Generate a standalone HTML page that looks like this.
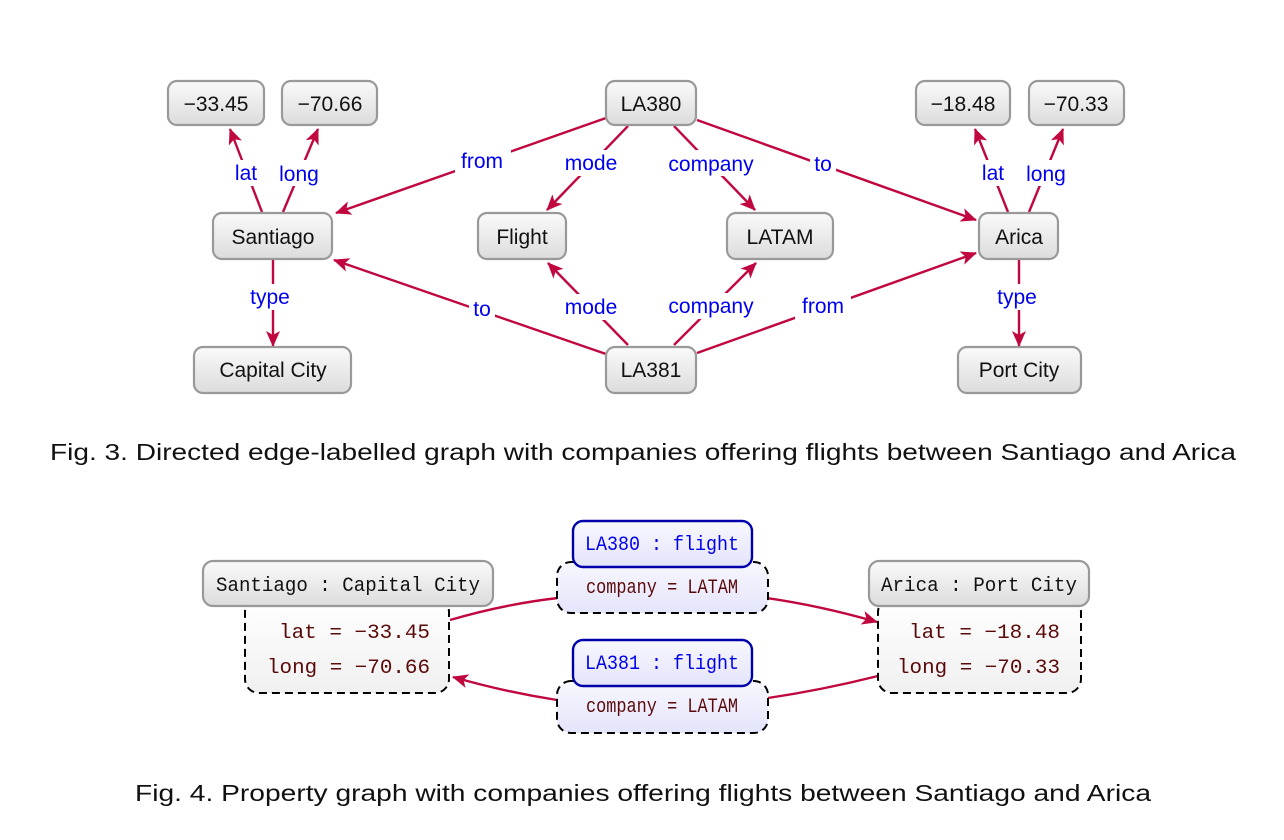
<!DOCTYPE html>
<html><head><meta charset="utf-8"><style>
html,body{margin:0;padding:0;background:#fff;}
svg{display:block;}
.n{fill:url(#g);stroke:#999;stroke-width:2.2;}
.t{font-family:"Liberation Sans",sans-serif;font-size:21px;fill:#111;text-anchor:middle;}
.l{font-family:"Liberation Sans",sans-serif;font-size:21px;fill:#0000ee;text-anchor:middle;}
.e{stroke:#c0073f;stroke-width:2.4;fill:none;marker-end:url(#a);}
.e2{stroke:#c0073f;stroke-width:2.4;fill:none;}
.m{font-family:"Liberation Mono",monospace;font-size:20px;}
.cap{font-family:"Liberation Sans",sans-serif;font-size:23px;fill:#111;}
.d{fill:url(#g2);stroke:#000;stroke-width:2;stroke-dasharray:8,5;}
.db{fill:url(#g3);stroke:#000;stroke-width:2;stroke-dasharray:8,5;}
.b{fill:url(#g3);stroke:#0000aa;stroke-width:2.4;}
</style></head><body>
<svg width="1284" height="840" viewBox="0 0 1284 840" xmlns="http://www.w3.org/2000/svg">
<defs>
<linearGradient id="g" x1="0" y1="0" x2="0" y2="1"><stop offset="0" stop-color="#fafafa"/><stop offset="1" stop-color="#dcdcdc"/></linearGradient>
<linearGradient id="g2" x1="0" y1="0" x2="0" y2="1"><stop offset="0" stop-color="#ffffff"/><stop offset="1" stop-color="#f0f0f0"/></linearGradient>
<linearGradient id="g3" x1="0" y1="0" x2="0" y2="1"><stop offset="0" stop-color="#f8f8ff"/><stop offset="1" stop-color="#e4e4fb"/></linearGradient>
<marker id="a" markerWidth="17" markerHeight="14" refX="15" refY="7" orient="auto" markerUnits="userSpaceOnUse"><path d="M0,0 L16,7 L0,14 L4,7 z" fill="#c0073f"/></marker>
</defs>

<line class="e" x1="262" y1="212" x2="230" y2="129"/>
<line class="e" x1="283" y1="212" x2="318" y2="129"/>
<line class="e" x1="606" y1="118" x2="336" y2="213"/>
<line class="e" x1="628" y1="126" x2="547" y2="210"/>
<line class="e" x1="674" y1="126" x2="755" y2="210"/>
<line class="e" x1="697" y1="120" x2="976" y2="220"/>
<line class="e" x1="273" y1="259" x2="273" y2="346"/>
<line class="e" x1="606" y1="354" x2="334" y2="260"/>
<line class="e" x1="628" y1="345" x2="548" y2="263"/>
<line class="e" x1="674" y1="345" x2="756" y2="263"/>
<line class="e" x1="697" y1="353" x2="976" y2="253"/>
<line class="e" x1="1008" y1="212" x2="975" y2="129"/>
<line class="e" x1="1029" y1="212" x2="1063" y2="129"/>
<line class="e" x1="1019" y1="259" x2="1019" y2="346"/>

<g>
<rect x="230" y="160" width="32" height="26" fill="#fff"/><text class="l" x="246" y="180">lat</text>
<rect x="276" y="160" width="48" height="26" fill="#fff"/><text class="l" x="299" y="181">long</text>
<rect x="455" y="148" width="56" height="26" fill="#fff"/><text class="l" x="482" y="168">from</text>
<rect x="560" y="150" width="62" height="26" fill="#fff"/><text class="l" x="591" y="170">mode</text>
<rect x="660" y="150" width="104" height="26" fill="#fff"/><text class="l" x="711" y="171">company</text>
<rect x="810" y="151" width="26" height="26" fill="#fff"/><text class="l" x="823" y="171">to</text>
<rect x="245" y="284" width="52" height="26" fill="#fff"/><text class="l" x="270" y="304">type</text>
<rect x="469" y="296" width="26" height="26" fill="#fff"/><text class="l" x="482" y="316">to</text>
<rect x="560" y="294" width="62" height="26" fill="#fff"/><text class="l" x="591" y="314">mode</text>
<rect x="660" y="293" width="104" height="26" fill="#fff"/><text class="l" x="711" y="313">company</text>
<rect x="795" y="293" width="56" height="26" fill="#fff"/><text class="l" x="823" y="313">from</text>
<rect x="977" y="160" width="32" height="26" fill="#fff"/><text class="l" x="993" y="180">lat</text>
<rect x="1023" y="160" width="48" height="26" fill="#fff"/><text class="l" x="1046" y="181">long</text>
<rect x="992" y="284" width="52" height="26" fill="#fff"/><text class="l" x="1017" y="304">type</text>
</g>

<rect class="n" x="168" y="81" width="96" height="44" rx="9"/><text class="t" x="216" y="111">−33.45</text>
<rect class="n" x="282" y="81" width="95" height="44" rx="9"/><text class="t" x="330" y="111">−70.66</text>
<rect class="n" x="606" y="81" width="90" height="44" rx="9"/><text class="t" x="651" y="111">LA380</text>
<rect class="n" x="916" y="81" width="94" height="44" rx="9"/><text class="t" x="963" y="111">−18.48</text>
<rect class="n" x="1029" y="81" width="95" height="44" rx="9"/><text class="t" x="1076" y="111">−70.33</text>
<rect class="n" x="213" y="213" width="119" height="46" rx="9"/><text class="t" x="273" y="244">Santiago</text>
<rect class="n" x="478" y="213" width="88" height="46" rx="9"/><text class="t" x="522" y="244">Flight</text>
<rect class="n" x="727" y="213" width="106" height="46" rx="9"/><text class="t" x="780" y="244">LATAM</text>
<rect class="n" x="979" y="213" width="79" height="46" rx="9"/><text class="t" x="1019" y="244">Arica</text>
<rect class="n" x="194" y="347" width="157" height="46" rx="9"/><text class="t" x="273" y="377">Capital City</text>
<rect class="n" x="606" y="347" width="90" height="46" rx="9"/><text class="t" x="651" y="377">LA381</text>
<rect class="n" x="958" y="347" width="123" height="46" rx="9"/><text class="t" x="1019" y="377">Port City</text>

<text class="cap" x="50" y="460" textLength="1186" lengthAdjust="spacingAndGlyphs">Fig. 3.  Directed edge-labelled graph with companies offering flights between Santiago and Arica</text>

<path class="e2" d="M450,620 Q505,604 558,598"/>
<path class="e" d="M767,598 Q822,606 877,622"/>
<path class="e2" d="M878,676 Q822,690 768,698"/>
<path class="e" d="M557,700 Q505,692 453,677"/>

<rect class="d" x="245" y="598" width="204" height="95" rx="14"/>
<rect class="n" x="203" y="561" width="290" height="45" rx="10"/>
<text class="m" x="348" y="591" text-anchor="middle" fill="#111" textLength="264" lengthAdjust="spacingAndGlyphs">Santiago : Capital City</text>
<text class="m" x="430" y="638" text-anchor="end" fill="#5a0a0a" textLength="151" lengthAdjust="spacingAndGlyphs">lat = −33.45</text>
<text class="m" x="430" y="673" text-anchor="end" fill="#5a0a0a" textLength="163" lengthAdjust="spacingAndGlyphs">long = −70.66</text>

<rect class="d" x="878" y="598" width="203" height="95" rx="14"/>
<rect class="n" x="869" y="561" width="220" height="45" rx="10"/>
<text class="m" x="979" y="591" text-anchor="middle" fill="#111" textLength="196" lengthAdjust="spacingAndGlyphs">Arica : Port City</text>
<text class="m" x="1060" y="638" text-anchor="end" fill="#5a0a0a" textLength="151" lengthAdjust="spacingAndGlyphs">lat = −18.48</text>
<text class="m" x="1060" y="673" text-anchor="end" fill="#5a0a0a" textLength="163" lengthAdjust="spacingAndGlyphs">long = −70.33</text>

<rect class="db" x="557" y="562" width="211" height="51" rx="14"/>
<rect class="b" x="573" y="521" width="179" height="46" rx="10"/>
<text class="m" x="662" y="550" text-anchor="middle" fill="#0000ee" textLength="154" lengthAdjust="spacingAndGlyphs">LA380 : flight</text>
<text class="m" x="662" y="593" text-anchor="middle" fill="#5a0a0a" textLength="152" lengthAdjust="spacingAndGlyphs">company = LATAM</text>

<rect class="db" x="557" y="681" width="211" height="52" rx="14"/>
<rect class="b" x="573" y="640" width="179" height="46" rx="10"/>
<text class="m" x="662" y="669" text-anchor="middle" fill="#0000ee" textLength="154" lengthAdjust="spacingAndGlyphs">LA381 : flight</text>
<text class="m" x="662" y="712" text-anchor="middle" fill="#5a0a0a" textLength="152" lengthAdjust="spacingAndGlyphs">company = LATAM</text>

<text class="cap" x="135" y="801" textLength="1016" lengthAdjust="spacingAndGlyphs">Fig. 4.  Property graph with companies offering flights between Santiago and Arica</text>
</svg>
</body></html>
